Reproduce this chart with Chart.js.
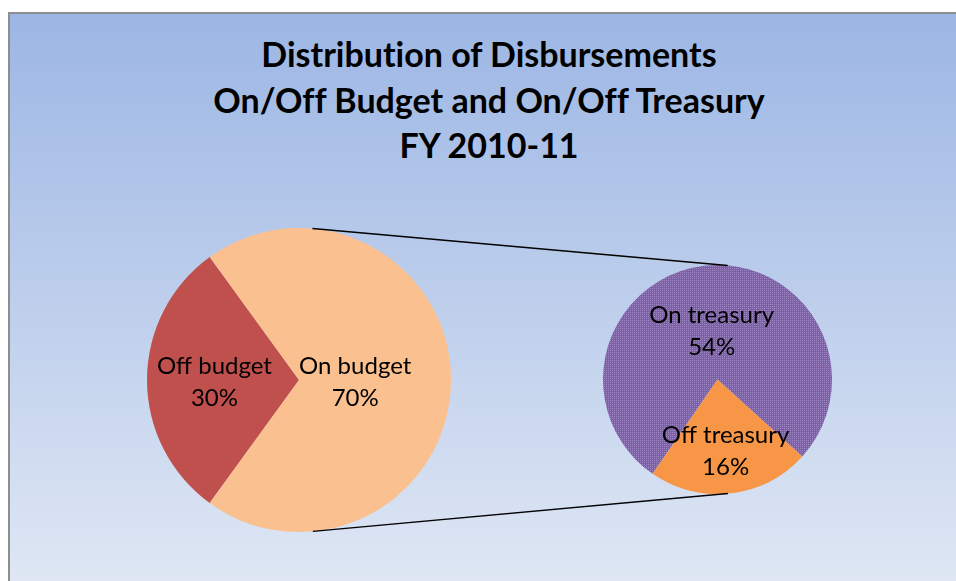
<!DOCTYPE html>
<html>
<head>
<meta charset="utf-8">
<title>Distribution of Disbursements</title>
<script src="https://cdn.jsdelivr.net/npm/chart.js@4.4.1/dist/chart.umd.min.js"></script>
<style>
  html, body { margin: 0; padding: 0; background: #ffffff; }
  #wrap { position: relative; width: 956px; height: 581px; overflow: hidden; }
  #panel {
    position: absolute; left: 8px; top: 12px; right: -4px; bottom: -4px;
    border-left: 2px solid #8e8e8e; border-top: 2px solid #8e8e8e;
    background: linear-gradient(#9cb6e4, #dfe7f4);
  }
  #title {
    position: absolute; left: 0; top: 31px; width: 978px;
    text-align: center; font: bold 34px Lato, sans-serif; line-height: 45.5px; color: #000;
    font-variant-ligatures: none;
  }
  canvas { position: absolute; left: 0; top: 0; }
</style>
</head>
<body>
<div id="wrap">
  <div id="panel"></div>
  <div id="title">Distribution of Disbursements<br>On/Off Budget and On/Off Treasury<br>FY 2010-11</div>
  <canvas id="bigPie" width="956" height="581"></canvas>
  <canvas id="smallPie" width="956" height="581"></canvas>
</div>
<script>
// Data
const budgetLabels = ["Off budget", "On budget"];
const budgetValues = [30, 70];
const treasuryLabels = ["On treasury", "Off treasury"];
const treasuryValues = [54, 16];

// dotted purple fill like the Excel pattern
function dotPattern() {
  const c = document.createElement("canvas");
  c.width = 4; c.height = 4;
  const g = c.getContext("2d");
  g.fillStyle = "#7c5fa4";
  g.fillRect(0, 0, 4, 4);
  g.fillStyle = "#9d88c4";
  g.fillRect(0, 0, 1, 1);
  g.fillRect(2, 0, 1, 1);
  g.fillRect(0, 2, 1, 1);
  g.fillRect(2, 2, 1, 1);
  return g.createPattern(c, "repeat");
}

// writes "name / value%" inside each slice
const sliceLabels = {
  id: "sliceLabels",
  afterDatasetsDraw(chart, args, opts) {
    const ctx = chart.ctx;
    const meta = chart.getDatasetMeta(0);
    const labels = chart.data.labels;
    const values = chart.data.datasets[0].data;
    ctx.save();
    ctx.fillStyle = "#000";
    ctx.font = "24px Lato, sans-serif";
    ctx.textAlign = "center";
    ctx.textBaseline = "alphabetic";
    meta.data.forEach(function (arc, i) {
      const mid = (arc.startAngle + arc.endAngle) / 2;
      const d = arc.outerRadius * opts.dist[i];
      const x = arc.x + Math.cos(mid) * d;
      const y = arc.y + Math.sin(mid) * d;
      ctx.fillText(labels[i], x, y - 6);
      ctx.fillText(values[i] + "%", x, y + 26);
    });
    ctx.restore();
  }
};

// series lines: outer tangents between the two pies
let bigChart;
const seriesLines = {
  id: "seriesLines",
  afterDraw(chart) {
    const a = bigChart.getDatasetMeta(0).data[0];
    const b = chart.getDatasetMeta(0).data[0];
    const phi = Math.atan2(b.y - a.y, b.x - a.x);
    const dist = Math.hypot(b.x - a.x, b.y - a.y);
    const alpha = Math.acos((a.outerRadius - b.outerRadius) / dist);
    const ctx = chart.ctx;
    ctx.save();
    ctx.strokeStyle = "#000";
    ctx.lineWidth = 1.5;
    [phi - alpha, phi + alpha].forEach(function (t) {
      ctx.beginPath();
      ctx.moveTo(a.x + a.outerRadius * Math.cos(t), a.y + a.outerRadius * Math.sin(t));
      ctx.lineTo(b.x + b.outerRadius * Math.cos(t), b.y + b.outerRadius * Math.sin(t));
      ctx.stroke();
    });
    ctx.restore();
  }
};

bigChart = new Chart(document.getElementById("bigPie"), {
  type: "pie",
  data: {
    labels: budgetLabels,
    datasets: [{
      data: budgetValues,
      backgroundColor: ["#c0504d", "#fac090"],
      borderWidth: 0
    }]
  },
  options: {
    responsive: false,
    animation: false,
    rotation: 216,
    layout: { padding: { left: 147, right: 505, top: 228, bottom: 49 } },
    plugins: {
      legend: { display: false },
      tooltip: { enabled: false },
      sliceLabels: { dist: [0.556, 0.37] }
    }
  },
  plugins: [sliceLabels]
});

const smallChart = new Chart(document.getElementById("smallPie"), {
  type: "pie",
  data: {
    labels: treasuryLabels,
    datasets: [{
      data: treasuryValues,
      backgroundColor: [dotPattern(), "#f79646"],
      borderWidth: 0
    }]
  },
  options: {
    responsive: false,
    animation: false,
    rotation: 214.5,
    layout: { padding: { left: 603, right: 124, top: 265, bottom: 87 } },
    plugins: {
      legend: { display: false },
      tooltip: { enabled: false },
      sliceLabels: { dist: [0.44, 0.61] }
    }
  },
  plugins: [sliceLabels, seriesLines]
});
</script>
</body>
</html>
